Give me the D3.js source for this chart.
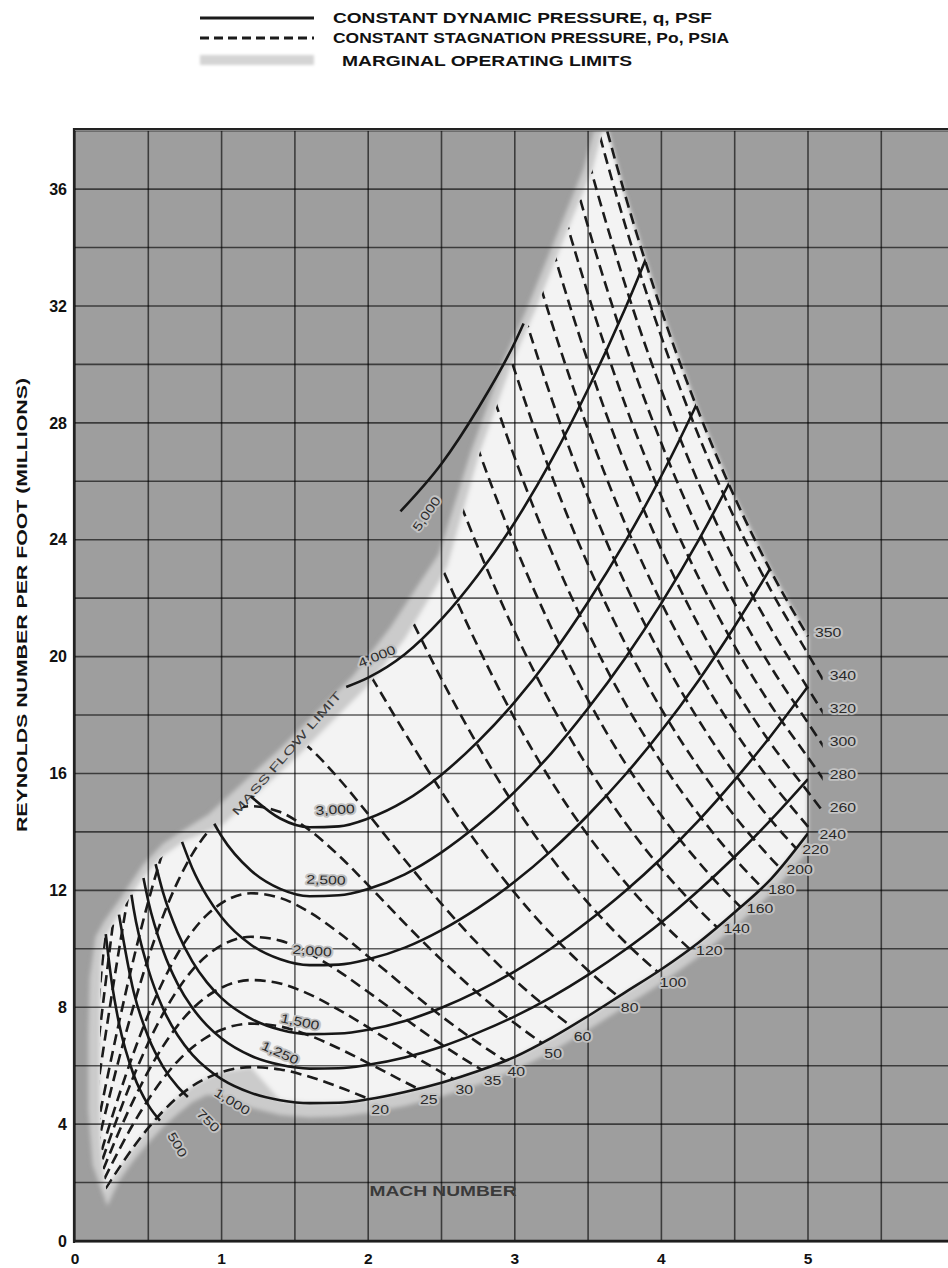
<!DOCTYPE html>
<html>
<head>
<meta charset="utf-8">
<title>Reynolds number per foot vs Mach number</title>
<script src="https://cdn.jsdelivr.net/npm/d3@7/dist/d3.min.js"></script>
<style>
  html, body { margin: 0; padding: 0; background: #ffffff; }
  svg { display: block; font-family: "Liberation Sans", Arial, Helvetica, sans-serif; }
</style>
</head>
<body>
<svg id="chart" width="948" height="1268"></svg>
<script>
// ---------- axis ticks ----------
const machTicks = [0, 1, 2, 3, 4, 5];
const reTicks = [0, 4, 8, 12, 16, 20, 24, 28, 32, 36];

// ---------- constant dynamic pressure lines, q in psf : [Mach, Reynolds number per ft (millions)] ----------
const qLevels = [500, 750, 1000, 1250, 1500, 2000, 2500, 3000, 4000, 5000];
const qLabelText = ["500", "750", "1,000", "1,250", "1,500", "2,000", "2,500", "3,000", "4,000", "5,000"];
const q500 = [[0.21,10.5],[0.25,8.88],[0.3,7.45],[0.4,5.69],[0.5,4.65],[0.58,4.12]];
const q750 = [[0.30,11.17],[0.4,8.53],[0.5,6.98],[0.6,5.97],[0.7,5.28],[0.77,4.93]];
const q1000 = [[0.385,11.85],[0.4,11.37],[0.5,9.30],[0.6,7.96],[0.7,7.04],[0.8,6.38],[0.9,5.90],[1.0,5.54],[1.2,5.07],[1.4,4.82],[1.6,4.72],[1.8,4.73],[2.0,4.85],[2.25,5.10],[2.5,5.42],[2.75,5.82],[3.0,6.30],[3.25,6.95],[3.5,7.70],[3.75,8.50],[4.0,9.30],[4.25,10.20],[4.5,11.25],[4.75,12.40],[5.0,13.95]];
const q1250 = [[0.467,12.42],[0.5,11.63],[0.6,9.95],[0.7,8.80],[0.8,7.98],[0.9,7.38],[1.0,6.93],[1.2,6.34],[1.4,6.03],[1.6,5.90],[1.8,5.91],[2.0,6.03],[2.25,6.28],[2.5,6.65],[2.75,7.13],[3.0,7.69],[3.25,8.35],[3.5,9.11],[3.75,9.96],[4.0,10.91],[4.25,11.98],[4.5,13.15],[4.75,14.43],[5.0,15.81]];
const q1500 = [[0.55,12.9],[0.6,11.94],[0.7,10.56],[0.8,9.57],[0.9,8.85],[1.0,8.31],[1.2,7.61],[1.4,7.23],[1.6,7.08],[1.8,7.10],[2.0,7.23],[2.25,7.53],[2.5,7.98],[2.75,8.55],[3.0,9.23],[3.25,10.02],[3.5,10.94],[3.75,11.96],[4.0,13.10],[4.25,14.37],[4.5,15.78],[4.75,17.31],[5.0,18.98]];
const q2000 = [[0.73,13.66],[0.8,12.76],[0.9,11.80],[1.0,11.08],[1.2,10.14],[1.4,9.64],[1.6,9.44],[1.8,9.46],[2.0,9.64],[2.25,10.04],[2.5,10.64],[2.75,11.40],[3.0,12.30],[3.25,13.36],[3.5,14.58],[3.75,15.94],[4.0,17.46],[4.25,19.16],[4.5,21.04],[4.75,23.08],[5.0,25.30]];
const q2500 = [[0.95,14.28],[1.0,13.85],[1.2,12.68],[1.4,12.05],[1.6,11.80],[1.8,11.83],[2.0,12.05],[2.25,12.55],[2.5,13.30],[2.75,14.25],[3.0,15.38],[3.25,16.70],[3.5,18.23],[3.75,19.93],[4.0,21.83],[4.25,23.95],[4.5,26.30],[4.75,28.85]];
const q3000 = [[1.2,15.21],[1.4,14.46],[1.6,14.16],[1.8,14.19],[2.0,14.46],[2.25,15.06],[2.5,15.96],[2.75,17.10],[3.0,18.45],[3.25,20.04],[3.5,21.87],[3.75,23.91],[4.0,26.19],[4.25,28.74],[4.5,31.56]];
const q4000 = [[1.85,18.96],[2.0,19.28],[2.25,20.08],[2.5,21.28],[2.75,22.80],[3.0,24.60],[3.25,26.72],[3.5,29.16],[3.75,31.88],[4.0,34.92]];
const q5000 = [[2.22,24.97],[2.5,26.60],[2.75,28.50],[3.0,30.75],[3.06,31.40]];
const qSeries = [q500, q750, q1000, q1250, q1500, q2000, q2500, q3000, q4000, q5000];

// ---------- constant stagnation pressure lines, Po in psia : [Mach, Reynolds number per ft (millions)] ----------
const p0Levels = [20, 25, 30, 35, 40, 50, 60, 80, 100, 120, 140, 160, 180, 200, 220, 240, 260, 280, 300, 320, 340, 350];
const p20 = [[0.15,1.28],[0.2,1.70],[0.3,2.49],[0.4,3.22],[0.5,3.87],[0.6,4.44],[0.7,4.92],[0.8,5.30],[0.9,5.58],[1.0,5.78],[1.2,5.95],[1.4,5.87],[1.6,5.62],[1.8,5.27],[2.0,4.87],[2.25,4.35]];
const p25 = [[0.15,1.60],[0.2,2.12],[0.3,3.11],[0.4,4.03],[0.5,4.84],[0.6,5.55],[0.7,6.15],[0.8,6.62],[0.9,6.98],[1.0,7.23],[1.2,7.44],[1.4,7.34],[1.6,7.03],[1.8,6.59],[2.0,6.09],[2.25,5.44],[2.5,4.81]];
const p30 = [[0.15,1.92],[0.2,2.54],[0.3,3.74],[0.4,4.83],[0.5,5.81],[0.6,6.66],[0.7,7.37],[0.8,7.94],[0.9,8.37],[1.0,8.67],[1.2,8.93],[1.4,8.81],[1.6,8.44],[1.8,7.91],[2.0,7.31],[2.25,6.52],[2.5,5.77],[2.75,5.08]];
const p35 = [[0.15,2.24],[0.2,2.97],[0.3,4.36],[0.4,5.64],[0.5,6.78],[0.6,7.77],[0.7,8.60],[0.8,9.27],[0.9,9.77],[1.0,10.12],[1.2,10.41],[1.4,10.28],[1.6,9.84],[1.8,9.23],[2.0,8.52],[2.25,7.61],[2.5,6.73],[2.75,5.93],[3.0,5.21]];
const p40 = [[0.15,2.56],[0.2,3.39],[0.3,4.98],[0.4,6.44],[0.5,7.75],[0.6,8.88],[0.7,9.83],[0.8,10.59],[0.9,11.16],[1.0,11.56],[1.2,11.90],[1.4,11.74],[1.6,11.25],[1.8,10.55],[2.0,9.74],[2.25,8.70],[2.5,7.69],[2.75,6.78],[3.0,5.96],[3.25,5.24]];
const p50 = [[0.15,3.21],[0.2,4.24],[0.3,6.23],[0.4,8.05],[0.5,9.69],[0.6,11.11],[0.7,12.29],[0.8,13.24],[0.9,13.96],[1.0,14.46],[1.2,14.88],[1.4,14.68],[1.6,14.06],[1.8,13.19],[2.0,12.18],[2.25,10.87],[2.5,9.62],[2.75,8.47],[3.0,7.45],[3.25,6.56],[3.5,5.79]];
const p60 = [[0.15,3.85],[0.2,5.09],[0.3,7.47],[0.4,9.66],[0.5,11.62],[0.6,13.33],[0.7,14.75],[0.8,15.89],[0.9,16.75],[1.0,17.35],[1.2,17.85],[1.4,17.62],[1.6,16.87],[1.8,15.82],[2.0,14.61],[2.25,13.04],[2.5,11.54],[2.75,10.16],[3.0,8.93],[3.25,7.87],[3.5,6.94],[3.75,6.14]];
const p80 = [[0.15,5.13],[0.2,6.78],[0.3,9.96],[0.4,12.88],[0.5,15.50],[0.6,17.77],[0.7,19.66],[0.8,21.18],[0.9,22.33],[1.0,23.13],[1.2,23.80],[1.4,23.49],[1.6,22.50],[1.8,21.10],[2.0,19.48],[2.25,17.39],[2.5,15.38],[2.75,13.55],[3.0,11.91],[3.25,10.49],[3.5,9.26],[3.75,8.19],[4.0,7.28]];
const p100 = [[0.15,6.41],[0.2,8.48],[0.3,12.45],[0.4,16.10],[0.5,19.37],[0.6,22.21],[0.7,24.58],[0.8,26.48],[0.9,27.91],[1.0,28.91],[1.2,29.75],[1.4,29.36],[1.6,28.12],[1.8,26.37],[2.0,24.35],[2.25,21.74],[2.5,19.23],[2.75,16.94],[3.0,14.89],[3.25,13.11],[3.5,11.57],[3.75,10.24],[4.0,9.10],[4.25,8.12]];
const p120 = [[0.15,7.69],[0.2,10.18],[0.3,14.94],[0.4,19.32],[0.5,23.24],[0.6,26.65],[0.7,29.50],[0.8,31.78],[0.9,33.49],[1.0,34.69],[1.2,35.70],[1.4,35.23],[1.6,33.74],[1.8,31.64],[2.0,29.22],[2.25,26.09],[2.5,23.08],[2.75,20.33],[3.0,17.87],[3.25,15.73],[3.5,13.88],[3.75,12.29],[4.0,10.92],[4.25,9.74],[4.5,8.72]];
const p140 = [[0.15,8.97],[0.2,11.87],[0.3,17.43],[0.4,22.54],[0.5,27.12],[0.6,31.09],[0.7,34.41],[0.8,37.07],[0.9,39.07],[1.0,40.47],[1.2,41.65],[1.4,41.10],[1.6,39.37],[1.8,36.92],[2.0,34.09],[2.25,30.44],[2.5,26.92],[2.75,23.72],[3.0,20.85],[3.25,18.35],[3.5,16.20],[3.75,14.34],[4.0,12.74],[4.25,11.37],[4.5,10.18]];
const p160 = [[1.8,42.19],[2.0,38.96],[2.25,34.78],[2.5,30.77],[2.75,27.10],[3.0,23.82],[3.25,20.98],[3.5,18.51],[3.75,16.38],[4.0,14.56],[4.25,12.99],[4.5,11.63],[4.75,10.46]];
const p180 = [[2.0,43.83],[2.25,39.13],[2.5,34.61],[2.75,30.49],[3.0,26.80],[3.25,23.60],[3.5,20.83],[3.75,18.43],[4.0,16.38],[4.25,14.62],[4.5,13.09],[4.75,11.77]];
const p200 = [[2.25,43.48],[2.5,38.46],[2.75,33.88],[3.0,29.78],[3.25,26.22],[3.5,23.14],[3.75,20.48],[4.0,18.20],[4.25,16.24],[4.5,14.54],[4.75,13.08],[5.0,11.82]];
const p220 = [[2.5,42.31],[2.75,37.27],[3.0,32.76],[3.25,28.84],[3.5,25.45],[3.75,22.53],[4.0,20.02],[4.25,17.86],[4.5,15.99],[4.75,14.39],[5.0,13.00]];
const p240 = [[2.5,46.15],[2.75,40.66],[3.0,35.74],[3.25,31.46],[3.5,27.77],[3.75,24.58],[4.0,21.84],[4.25,19.49],[4.5,17.45],[4.75,15.70],[5.0,14.18],[5.15,13.27]];
const p260 = [[2.75,44.04],[3.0,38.71],[3.25,34.09],[3.5,30.08],[3.75,26.62],[4.0,23.66],[4.25,21.11],[4.5,18.90],[4.75,17.00],[5.0,15.37],[5.15,14.38]];
const p280 = [[2.75,47.43],[3.0,41.69],[3.25,36.71],[3.5,32.40],[3.75,28.67],[4.0,25.48],[4.25,22.74],[4.5,20.36],[4.75,18.31],[5.0,16.55],[5.15,15.48]];
const p300 = [[3.0,44.67],[3.25,39.33],[3.5,34.71],[3.75,30.72],[4.0,27.30],[4.25,24.36],[4.5,21.81],[4.75,19.62],[5.0,17.73],[5.15,16.59]];
const p320 = [[3.0,47.65],[3.25,41.95],[3.5,37.02],[3.75,32.77],[4.0,29.12],[4.25,25.98],[4.5,23.26],[4.75,20.93],[5.0,18.91],[5.15,17.70]];
const p340 = [[3.25,44.57],[3.5,39.34],[3.75,34.82],[4.0,30.94],[4.25,27.61],[4.5,24.72],[4.75,22.24],[5.0,20.09],[5.15,18.80]];
const p350 = [[3.25,45.89],[3.5,40.50],[3.75,35.84],[4.0,31.85],[4.25,28.42],[4.5,25.45],[4.75,22.89],[5.0,20.69]];
const p0Series = [p20, p25, p30, p35, p40, p50, p60, p80, p100, p120, p140, p160, p180, p200, p220, p240, p260, p280, p300, p320, p340, p350];

// ---------- operating envelope outline [Mach, Re] ----------
// left edge of the low-Mach tail, bottom to top
const envelopeLeft = [[0.215,1.7],[0.19,2.5],[0.175,3.5],[0.17,4.8],[0.17,6.5],[0.172,8.2],[0.18,9.6],[0.2,10.4]];
// upper edge: tail top, mass flow limit, upper limit up to the apex
const envelopeTop = [[0.22,10.5],[0.30,11.2],[0.38,11.8],[0.46,12.4],[0.58,13.1],[0.75,13.7],[1.0,14.2],[1.5,16.5],[1.99,18.96],[2.25,20.6],[2.49,22.6],[2.54,23.1],[2.76,26.97],[2.99,30.15],[3.15,31.96],[3.36,34.6],[3.53,36.65],[3.60,38.0]];
// outer edge of the marginal operating band
const marginUpper = [[0.22,1.2],[0.12,2.6],[0.09,4.5],[0.09,7.0],[0.1,9.0],[0.14,10.4],[0.2,10.95],[0.3,11.65],[0.46,12.85],[0.6,13.6],[0.8,14.25],[0.91,14.6],[1.41,16.9],[1.9,19.36],[2.15,21.0],[2.4,22.9],[2.48,23.5],[2.7,27.0],[2.93,30.2],[3.09,32.0],[3.3,34.6],[3.47,36.7],[3.54,38.0]];
const marginLower = [[5.0,13.35],[4.75,11.9],[4.5,10.75],[4.25,9.72],[4.0,8.82],[3.75,8.02],[3.5,7.22],[3.25,6.47],[3.0,5.84],[2.75,5.35],[2.5,4.95],[2.25,4.62],[2.0,4.38],[1.8,4.26],[1.6,4.23],[1.4,4.31],[1.2,4.56],[1.0,4.95],[0.9,5.0],[0.8,4.75],[0.7,4.35],[0.6,3.9],[0.5,3.35],[0.4,2.75],[0.3,2.05]];

// ---------- text ----------
const legendText = ["CONSTANT DYNAMIC PRESSURE, q, PSF", "CONSTANT STAGNATION PRESSURE, Po, PSIA", "MARGINAL OPERATING LIMITS"];
const yTitle = "REYNOLDS NUMBER PER FOOT (MILLIONS)";
const xTitle = "MACH NUMBER";
const limitText = "MASS FLOW LIMIT";

// label placement for the q lines: [Mach, Re, rotation in degrees]
const qLabelLayout = [[0.696,3.29,60],[0.907,4.11,45],[1.071,4.76,32],[1.398,6.43,24],[1.535,7.49,12],[1.617,9.92,4],[1.712,12.35,2],[1.774,14.75,-3],[2.06,20.0,-22],[2.40,24.88,-55]];

// ---------- scales ----------
const X = d3.scaleLinear().domain([0, 6]).range([75, 954.6]);
const Y = d3.scaleLinear().domain([0, 38]).range([1241, 130.64]);

const svg = d3.select("#chart");
const defs = svg.append("defs");

function valueAt(s, m) {
  if (m <= s[0][0]) return s[0][1];
  for (let i = 1; i < s.length; i++) {
    if (m <= s[i][0]) {
      const [m0, r0] = s[i - 1], [m1, r1] = s[i];
      return r0 + (r1 - r0) * (m - m0) / (m1 - m0);
    }
  }
  return s[s.length - 1][1];
}
function machAtLevel(s, r) {
  for (let i = 1; i < s.length; i++) {
    const [m0, r0] = s[i - 1], [m1, r1] = s[i];
    if (r0 >= r && r1 <= r) return m0 + (m1 - m0) * (r0 - r) / (r0 - r1);
  }
  return s[0][0];
}
const outline = pts => "M" + pts.map(d => X(d[0]).toFixed(1) + "," + Y(d[1]).toFixed(1)).join("L") + "Z";

// ---------- envelope geometry ----------
const apexM = machAtLevel(p350, 38);
const rightEdge = [[apexM, 38], ...p350.filter(d => d[1] < 38)];
const whiteOutline = [
  ...envelopeLeft, ...envelopeTop, ...rightEdge,
  ...q1000.filter(d => d[0] >= 1.3).slice().reverse(),
  ...p20.filter(d => d[0] >= 0.2 && d[0] <= 1.2).slice().reverse()
];
const marginOutline = [...marginUpper, ...rightEdge, ...marginLower];
const dashOutline = [
  ...envelopeLeft, ...envelopeTop,
  [envelopeTop[envelopeTop.length - 1][0], 42], [apexM + 0.02, 42],
  ...p350.filter(d => d[0] > apexM).map(d => [d[0], d[1] * 1.03]),
  [5.1, p350[p350.length - 1][1] * 1.03], [5.1, 14.45],
  ...q1000.filter(d => d[0] >= 1.0).slice().reverse(),
  ...p20.filter(d => d[0] >= 0.2 && d[0] <= 0.9).slice().reverse().map(d => [d[0], d[1] * 0.97])
];
const solidOutline = [[-0.2, -2], [-0.2, 42], [apexM, 42], [apexM, 38], ...p350.filter(d => d[0] > apexM), [5.0, -2]];

defs.append("clipPath").attr("id", "plotClip")
  .append("rect").attr("x", X(0)).attr("y", Y(38)).attr("width", 948 - X(0)).attr("height", Y(0) - Y(38) + 2);
defs.append("clipPath").attr("id", "dashClip").append("path").attr("d", outline(dashOutline));
defs.append("clipPath").attr("id", "solidClip").append("path").attr("d", outline(solidOutline));
const soft = defs.append("filter").attr("id", "soft").attr("x", "-10%").attr("y", "-10%").attr("width", "120%").attr("height", "120%");
soft.append("feGaussianBlur").attr("stdDeviation", 2.2);
const softer = defs.append("filter").attr("id", "softer").attr("x", "-10%").attr("y", "-30%").attr("width", "120%").attr("height", "160%");
softer.append("feGaussianBlur").attr("stdDeviation", 1.5);

// ---------- plot background ----------
svg.append("rect").attr("x", 74).attr("y", 129).attr("width", 948 - 74).attr("height", 1243 - 129).attr("fill", "#9e9e9e");

const plot = svg.append("g").attr("clip-path", "url(#plotClip)");

// operating envelope with its marginal band
const env = plot.append("g").attr("filter", "url(#soft)");
env.append("path").attr("d", outline(marginOutline)).attr("fill", "#cbcbcb");
env.append("path").attr("d", outline(whiteOutline)).attr("fill", "#f3f3f3");

// grid every 0.5 Mach and 2 million
const grid = plot.append("g").attr("stroke", "#000").attr("stroke-opacity", 0.62).attr("stroke-width", 1.6);
grid.selectAll("line.v").data(d3.range(0, 6.01, 0.5)).join("line").attr("class", "v")
  .attr("x1", d => X(d)).attr("x2", d => X(d)).attr("y1", Y(38)).attr("y2", Y(0));
grid.selectAll("line.h").data(d3.range(0, 38.01, 2)).join("line").attr("class", "h")
  .attr("x1", X(0)).attr("x2", 948).attr("y1", d => Y(d)).attr("y2", d => Y(d));

// mass flow limit caption in the band
plot.append("text")
  .attr("transform", `translate(${X(1.444)},${Y(16.69)}) rotate(-49)`)
  .attr("text-anchor", "middle").attr("dominant-baseline", "central")
  .attr("font-size", 11.5).attr("fill", "#3c3c3c")
  .attr("textLength", 160).attr("lengthAdjust", "spacingAndGlyphs")
  .text(limitText);

const line = d3.line().x(d => X(d[0])).y(d => Y(d[1])).curve(d3.curveMonotoneX);

// constant stagnation pressure lines
plot.append("g").attr("clip-path", "url(#dashClip)")
  .selectAll("path").data(p0Series).join("path")
  .attr("d", line).attr("fill", "none").attr("stroke", "#1b1b1b")
  .attr("stroke-width", 2.6).attr("stroke-dasharray", "11,6");

// constant dynamic pressure lines
plot.append("g").attr("clip-path", "url(#solidClip)")
  .selectAll("path").data(qSeries).join("path")
  .attr("d", line).attr("fill", "none").attr("stroke", "#171717")
  .attr("stroke-width", 2.6);

// ---------- line labels ----------
const labelLen = s => s.replace(/,/g, "").length * 8.8 + (s.match(/,/g) || []).length * 4;
function haloText(g, str) {
  return g.append("text").text(str)
    .attr("font-size", 12.5).attr("fill", "#2a2a2a")
    .attr("stroke", "#c2c2c2").attr("stroke-width", 3.5).attr("stroke-linejoin", "round")
    .attr("paint-order", "stroke")
    .attr("textLength", labelLen(str)).attr("lengthAdjust", "spacingAndGlyphs");
}

const labels = svg.append("g");
qLabelLayout.forEach((d, i) => {
  haloText(labels, qLabelText[i])
    .attr("transform", `translate(${X(d[0])},${Y(d[1])}) rotate(${d[2]})`)
    .attr("text-anchor", "middle").attr("dominant-baseline", "central");
});

p0Series.forEach((s, i) => {
  let end = null;
  for (let m = 1.5; m <= 5.06; m += 0.002) {
    if (valueAt(s, m) <= valueAt(q1000, m)) { end = m; break; }
  }
  let px, py;
  if (end !== null) {
    const r = valueAt(s, end);
    if (end < 4.1) { px = X(end) + 2; py = Y(r) + 11; }
    else { px = X(end) + 6; py = Y(r) + 2; }
  } else {
    const mEnd = Math.min(s[s.length - 1][0], 5.1);
    px = X(mEnd) + 7; py = Y(valueAt(s, mEnd)) - 3;
  }
  haloText(labels, String(p0Levels[i]))
    .attr("x", px).attr("y", py)
    .attr("text-anchor", "start").attr("dominant-baseline", "central");
});

// ---------- frame and axes ----------
svg.append("line").attr("x1", 74).attr("x2", 948).attr("y1", 129).attr("y2", 129).attr("stroke", "#222").attr("stroke-width", 2);
svg.append("line").attr("x1", 74).attr("x2", 74).attr("y1", 128).attr("y2", 1243).attr("stroke", "#222").attr("stroke-width", 2.2);
svg.append("line").attr("x1", 74).attr("x2", 948).attr("y1", Y(0)).attr("y2", Y(0)).attr("stroke", "#1e1e1e").attr("stroke-width", 2.6);

svg.append("g").selectAll("text").data(reTicks).join("text")
  .attr("x", 67).attr("y", d => Y(d)).attr("dy", "0.36em")
  .attr("text-anchor", "end").attr("font-size", 16).attr("font-weight", "bold")
  .attr("fill", "#111")
  .text(d => d);
svg.append("g").selectAll("text").data(machTicks).join("text")
  .attr("x", d => X(d)).attr("y", 1264)
  .attr("text-anchor", "middle").attr("font-size", 15.5).attr("font-weight", "bold")
  .attr("fill", "#111")
  .text(d => d);

svg.append("text")
  .attr("transform", "translate(27,605) rotate(-90)")
  .attr("text-anchor", "middle").attr("font-size", 14).attr("font-weight", "bold").attr("fill", "#111")
  .attr("textLength", 454).attr("lengthAdjust", "spacingAndGlyphs")
  .text(yTitle);

svg.append("text")
  .attr("x", 443).attr("y", 1196)
  .attr("text-anchor", "middle").attr("font-size", 15).attr("font-weight", "bold").attr("fill", "#3a3a3a")
  .attr("textLength", 147).attr("lengthAdjust", "spacingAndGlyphs")
  .text(xTitle);

// ---------- legend ----------
const legend = svg.append("g");
legend.append("line").attr("x1", 200).attr("x2", 314).attr("y1", 18).attr("y2", 18)
  .attr("stroke", "#1b1b1b").attr("stroke-width", 2.8);
legend.append("line").attr("x1", 200).attr("x2", 314).attr("y1", 38).attr("y2", 38)
  .attr("stroke", "#1b1b1b").attr("stroke-width", 2.8).attr("stroke-dasharray", "9,5");
legend.append("rect").attr("x", 200).attr("y", 55).attr("width", 114).attr("height", 10)
  .attr("fill", "#d4d4d4").attr("filter", "url(#softer)");
const legendX = [333, 333, 342];
const legendY = [23, 43, 66];
const legendW = [379, 396, 290];
legendText.forEach((t, i) => {
  legend.append("text").attr("x", legendX[i]).attr("y", legendY[i])
    .attr("font-size", 14.5).attr("font-weight", "bold").attr("fill", "#111")
    .attr("textLength", legendW[i]).attr("lengthAdjust", "spacingAndGlyphs")
    .text(t);
});
</script>
</body>
</html>
